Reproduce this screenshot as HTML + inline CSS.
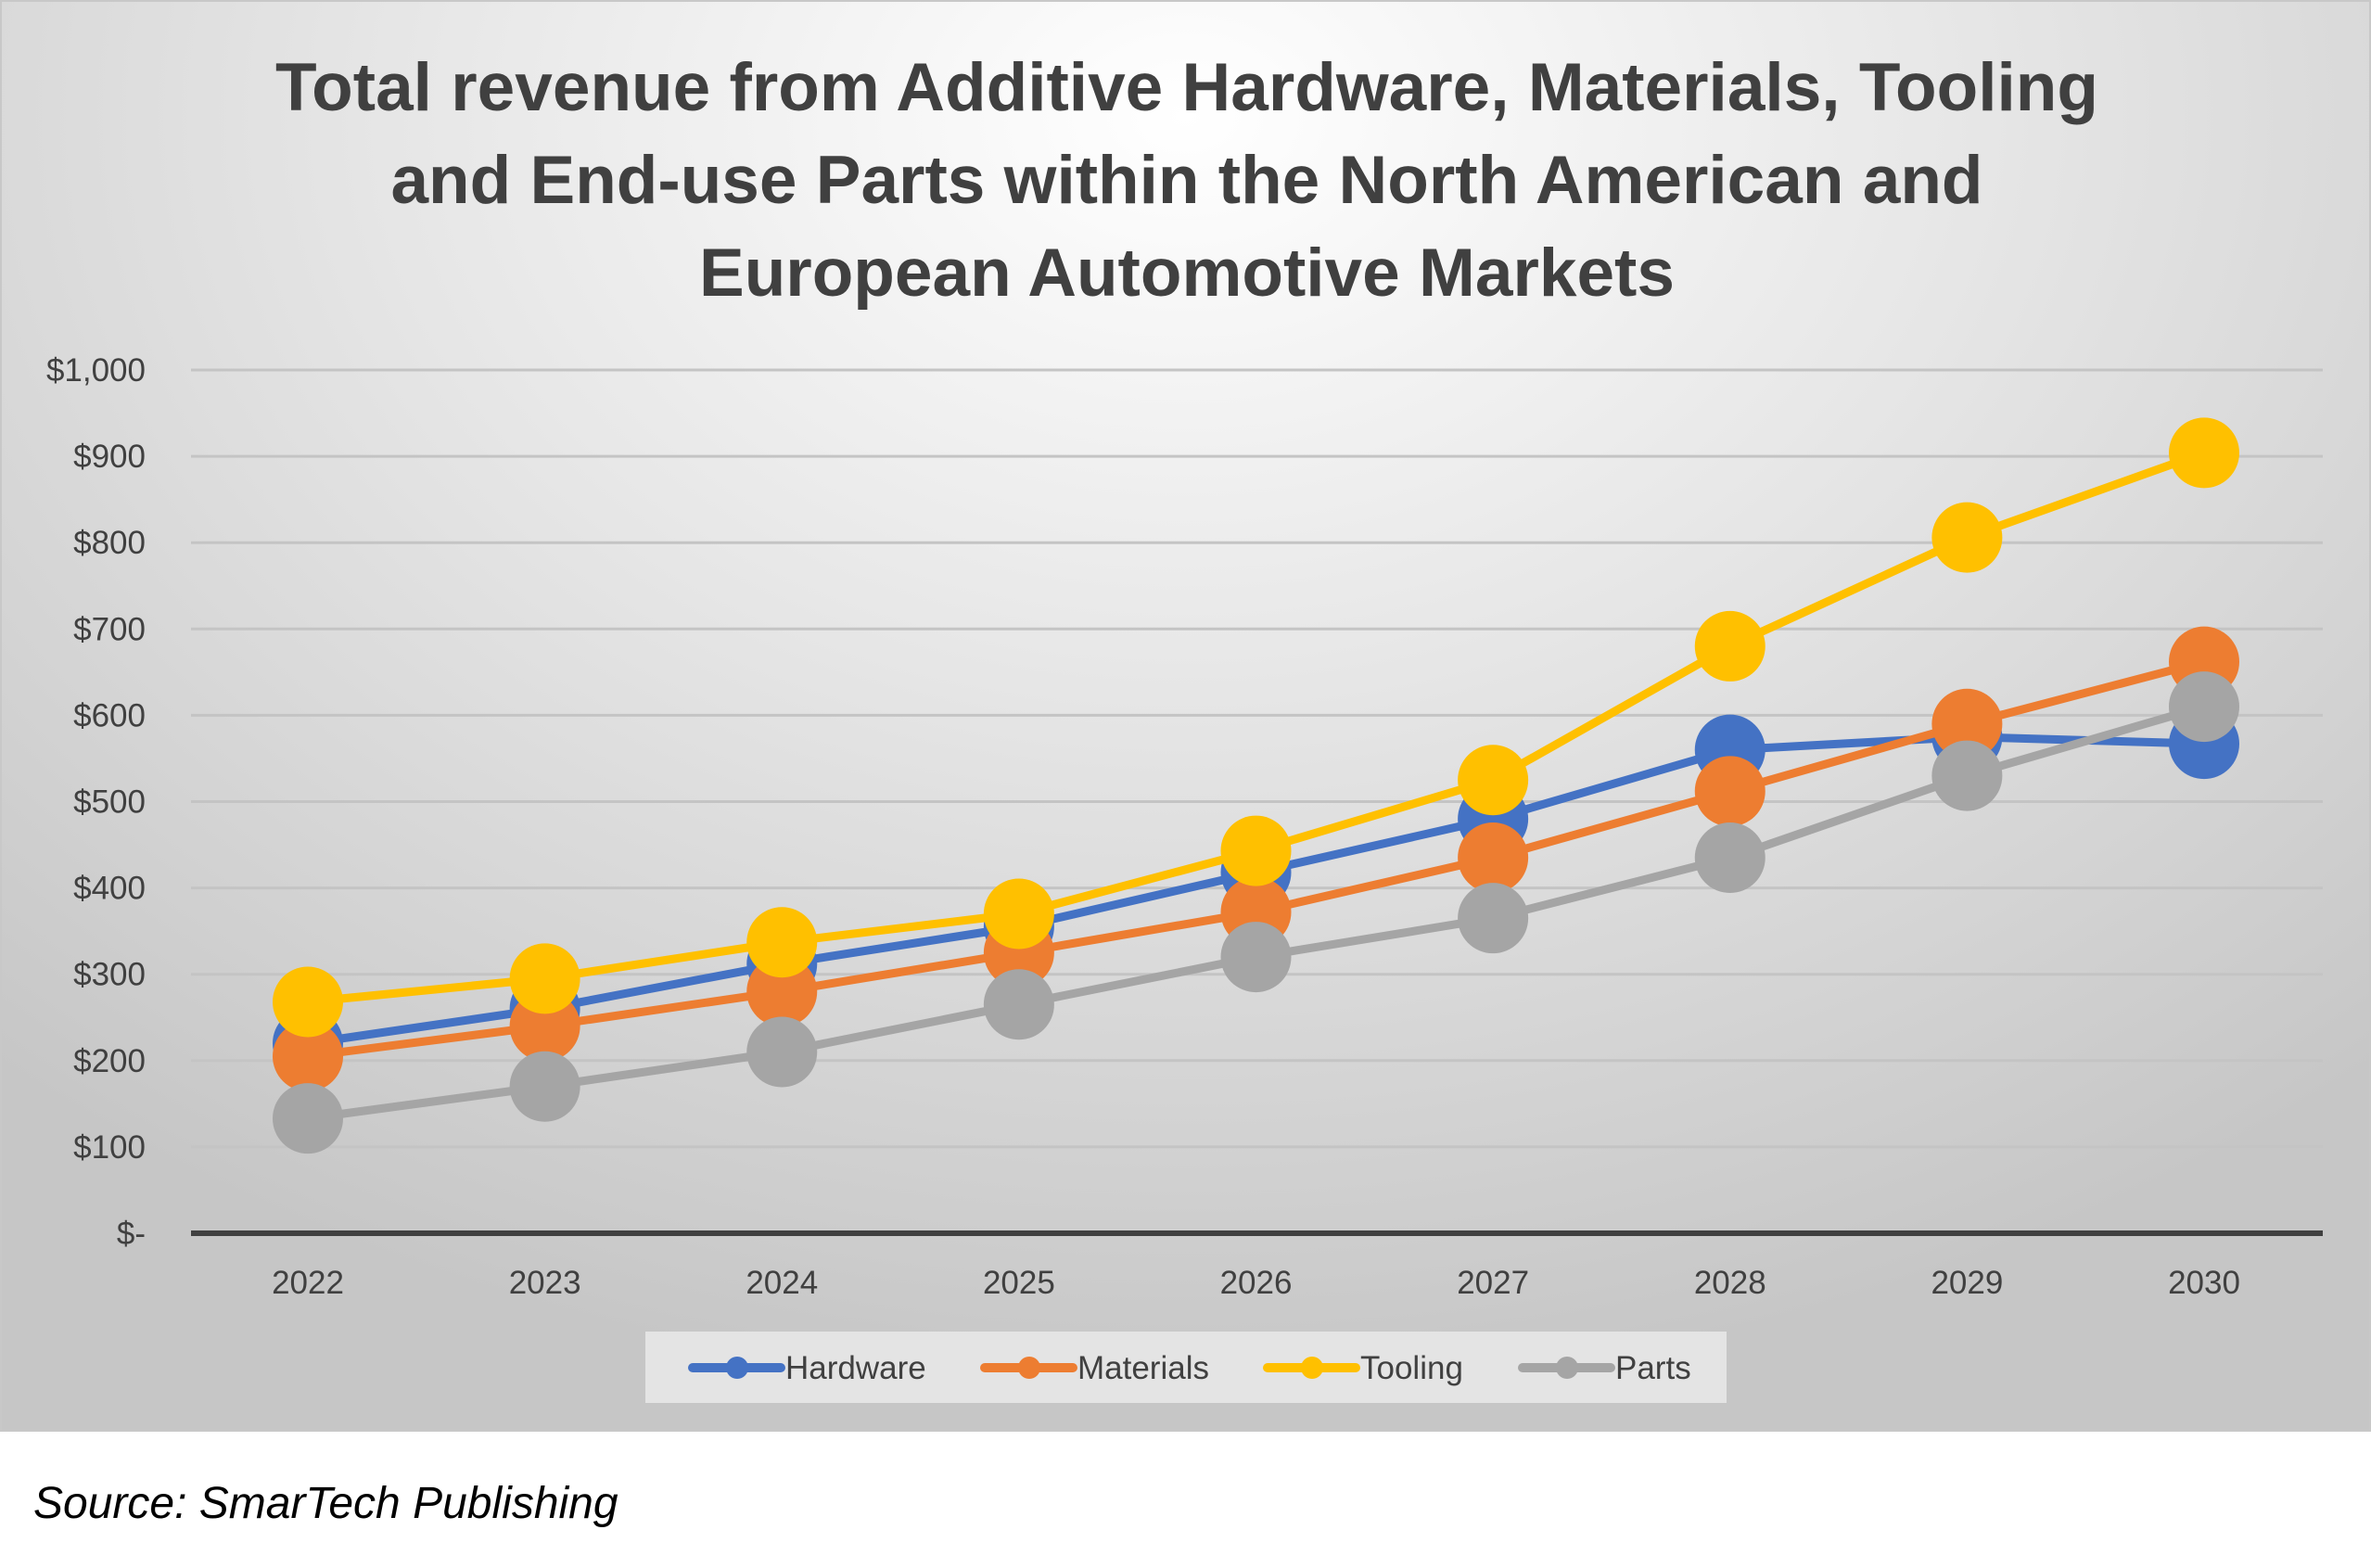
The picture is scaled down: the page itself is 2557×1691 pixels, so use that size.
<!DOCTYPE html>
<html><head><meta charset="utf-8"><style>
html,body{margin:0;padding:0;background:#fff;width:2557px;height:1691px;overflow:hidden}
#chart{position:absolute;left:0;top:0;width:2553px;height:1540px;border:2px solid #c8c8c8;background:radial-gradient(ellipse 75% 90% at 50% 8%,#ffffff 0%,#e6e6e6 45%,#c6c6c6 100%)}
#src{position:absolute;left:36px;top:1594px;font:italic 48px "Liberation Sans",sans-serif;color:#000}
</style></head><body>
<div id="chart">
<svg id="svg" width="2553" height="1540" xmlns="http://www.w3.org/2000/svg">
<g font-family="Liberation Sans, sans-serif" font-weight="bold" font-size="73" fill="#404040" text-anchor="middle">
<text x="1278" y="117">Total revenue from Additive Hardware, Materials, Tooling</text>
<text x="1278" y="217">and End-use Parts within the North American and</text>
<text x="1278" y="317">European Automotive Markets</text>
</g>
<g id="grid"></g>
<g id="yt"></g>
<g id="xt"></g>
<g id="series"></g>
<rect x="694" y="1434" width="1166" height="77" fill="#e4e4e4"/>
<g id="legend"></g>
</svg>
</div>
<div id="src">Source: SmarTech Publishing</div>
<script>
const years=["2022","2023","2024","2025","2026","2027","2028","2029","2030"];
const hardware=[220,260,312,355,418,480,560,575,567];
const materials=[205,240,280,325,372,435,512,590,662];
const tooling=[268,295,337,370,443,525,680,806,904];
const parts=[133,170,210,265,320,365,435,530,610];
const yTicks=[0,100,200,300,400,500,600,700,800,900,1000];
const yTickLabels=["$-","$100","$200","$300","$400","$500","$600","$700","$800","$900","$1,000"];
const names=["Hardware","Materials","Tooling","Parts"];
const colors=["#4472c4","#ed7d31","#ffc000","#a5a5a5"];
const NS="http://www.w3.org/2000/svg";
const y0=1328,y1=397,xa=330,xb=2375,gl=204,gr=2503;
const yS=v=>y0+(y1-y0)*v/1000;
const xS=i=>xa+(xb-xa)*i/(years.length-1);
function mk(t,a,p){const e=document.createElementNS(NS,t);for(const k in a)e.setAttribute(k,a[k]);p.appendChild(e);return e;}
const grid=document.getElementById('grid'),yt=document.getElementById('yt'),xt=document.getElementById('xt');
yTicks.forEach((v,i)=>{
 if(v>0){const l=mk('line',{x1:gl,x2:gr,y1:yS(v),y2:yS(v),stroke:'#c4c4c4','stroke-width':3},grid);
 
 }
 const t=mk('text',{x:155,y:yS(v)+12,'text-anchor':'end','font-family':'Liberation Sans, sans-serif','font-size':35,fill:'#404040'},yt);
 t.textContent=yTickLabels[i];
 
 
});
const ax=mk('line',{x1:gl,x2:gr,y1:y0,y2:y0,stroke:'#404040','stroke-width':6},grid);


years.forEach((y,i)=>{const t=mk('text',{x:xS(i),y:1393,'text-anchor':'middle','font-family':'Liberation Sans, sans-serif','font-size':35,fill:'#404040'},xt);
 t.textContent=y;
 
 });
const sg=document.getElementById('series');
[hardware,materials,tooling,parts].forEach((d,s)=>{
 const g=mk('g',{},sg);
 
 
 const pl=mk('polyline',{points:d.map((v,i)=>xS(i)+','+yS(v)).join(' '),fill:'none',stroke:colors[s],'stroke-width':9,'stroke-linejoin':'round'},g);
 
 
 d.forEach((v,i)=>{const c=mk('circle',{cx:xS(i),cy:yS(v),r:38,fill:colors[s]},g);
  
  });
});
const lg=document.getElementById('legend');
const lx=[745,1060,1365,1640];
names.forEach((n,s)=>{const g=mk('g',{},lg);
 
 
 mk('line',{x1:lx[s],x2:lx[s]+95,y1:1473,y2:1473,stroke:colors[s],'stroke-width':10,'stroke-linecap':'round'},g);
 mk('circle',{cx:lx[s]+48,cy:1473,r:12,fill:colors[s]},g);
 const t=mk('text',{x:lx[s]+100,y:1485,'font-family':'Liberation Sans, sans-serif','font-size':35,fill:'#404040'},g);
 t.textContent=n;});
</script>
</body></html>
